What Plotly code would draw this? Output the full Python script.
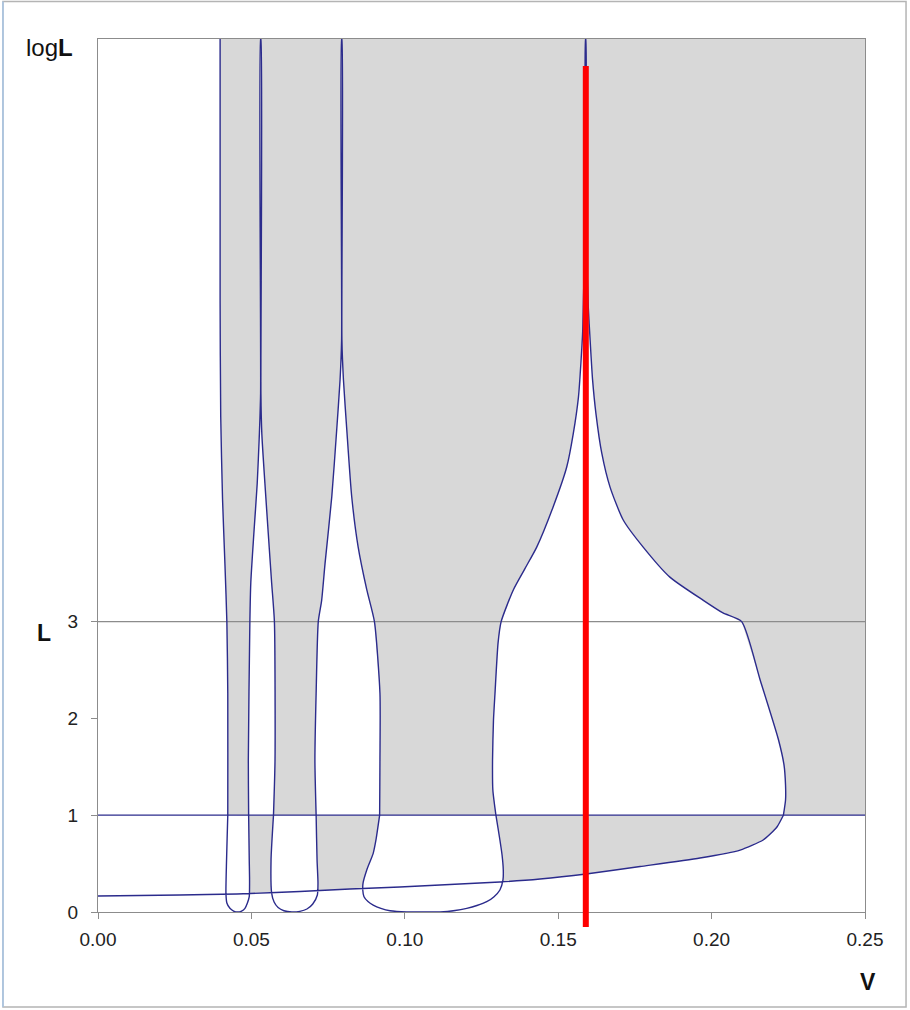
import plotly.graph_objects as go

# ---------------- data (V on x, L / logL on y) ----------------
X_MAX = 0.25
Y_TOP = 9.02          # top of the logL region
L_ONE = 1.0
L_GRID = 3.0
RED_V = 0.159
RED_Y = [8.74, -0.155]

# left boundary (top -> L=1)
B0_V = [0.0398, 0.0398, 0.0400, 0.0406, 0.0414, 0.0420, 0.0423, 0.0423]
B0_Y = [9.02, 6.32, 5.12, 4.26, 3.57, 3.00, 2.26, 1.00]

# loop A (L=1 -> bottom -> L=1)
LA_V = [0.0423, 0.0419, 0.0417, 0.0420, 0.0430, 0.0442, 0.0455, 0.0468, 0.0479, 0.0487, 0.0493, 0.0494, 0.0493, 0.0491]
LA_Y = [1.00, 0.537, 0.196, 0.093, 0.038, 0.010, 0.000, 0.010, 0.038, 0.093, 0.158, 0.331, 0.537, 1.00]

# tongue 3 (V0/3)
T3L_V = [0.0491, 0.0490, 0.0495, 0.0498, 0.0508, 0.0519, 0.0526, 0.0530, 0.0530]
T3L_Y = [1.00, 1.57, 3.00, 3.40, 3.91, 4.43, 4.94, 5.36, 9.02]
T3R_V = [0.0531, 0.0531, 0.0534, 0.0544, 0.0555, 0.0566, 0.0575, 0.0577, 0.0572]
T3R_Y = [9.02, 5.36, 4.94, 4.43, 3.91, 3.40, 3.00, 1.57, 1.00]

# loop B
LB_V = [0.0572, 0.0564, 0.0566, 0.0574, 0.0587, 0.0606, 0.0632, 0.0658, 0.0681, 0.0700, 0.0715, 0.0717, 0.0714, 0.0711]
LB_Y = [1.00, 0.537, 0.196, 0.103, 0.046, 0.013, 0.000, 0.007, 0.031, 0.083, 0.176, 0.300, 0.537, 1.00]

# tongue 2 (V0/2)
T2L_V = [0.0711, 0.0707, 0.0711, 0.0718, 0.0729, 0.0740, 0.0762, 0.0778, 0.0789, 0.0794, 0.0794]
T2L_Y = [1.00, 1.57, 2.26, 3.00, 3.22, 3.60, 4.29, 4.98, 5.50, 5.91, 9.02]
T2R_V = [0.0795, 0.0795, 0.0800, 0.0811, 0.0827, 0.0848, 0.0876, 0.0901, 0.0919, 0.0919, 0.0918]
T2R_Y = [9.02, 5.91, 5.50, 4.98, 4.29, 3.77, 3.33, 3.00, 2.26, 1.57, 1.00]

# loop C
LC_V = [0.0918, 0.0906, 0.0897, 0.0876, 0.0864, 0.0863, 0.0867, 0.0880, 0.0897, 0.0922, 0.0952,
        0.1006, 0.1059, 0.1115, 0.1164, 0.1202, 0.1235, 0.1267, 0.1290, 0.1310, 0.1320, 0.1321,
        0.1317, 0.1310, 0.1297]
LC_Y = [1.00, 0.744, 0.606, 0.434, 0.300, 0.227, 0.158, 0.108, 0.072, 0.038, 0.013,
        0.000, 0.000, 0.000, 0.015, 0.038, 0.067, 0.106, 0.155, 0.227, 0.331, 0.434,
        0.589, 0.744, 1.00]

# tongue 1 (V0)
T1L_V = [0.1297, 0.1287, 0.1286, 0.1289, 0.1294, 0.1304, 0.1314, 0.1354, 0.1392, 0.1430, 0.1484,
         0.1528, 0.1549, 0.1566, 0.1574, 0.1580, 0.1583, 0.1589, 0.1589]
T1L_Y = [1.00, 1.26, 1.57, 1.98, 2.26, 2.78, 3.00, 3.33, 3.55, 3.77, 4.19,
         4.60, 4.94, 5.32, 5.67, 6.01, 6.43, 6.84, 9.02]
T1R_V = [0.1590, 0.1590, 0.1595, 0.1598, 0.1604, 0.1612, 0.1623, 0.1642, 0.1669, 0.1712, 0.1777,
         0.1864, 0.1973, 0.2037, 0.2098, 0.2158, 0.2218, 0.2236, 0.2241, 0.2241, 0.2234]
T1R_Y = [9.02, 6.84, 6.53, 6.25, 5.91, 5.50, 5.15, 4.74, 4.39, 4.05, 3.77,
         3.46, 3.22, 3.09, 3.00, 2.40, 1.78, 1.52, 1.31, 1.157, 1.00]

# lower boundary (L=1 crossing -> V=0)
LOW_V = [0.2234, 0.2213, 0.2191, 0.2168, 0.2093, 0.1962, 0.1767, 0.1591, 0.1441, 0.1310, 0.1147,
         0.0984, 0.0821, 0.0658, 0.0495, 0.0453, 0.0267, 0.0]
LOW_Y = [1.00, 0.878, 0.806, 0.744, 0.640, 0.558, 0.470, 0.393, 0.341, 0.310, 0.284,
         0.258, 0.238, 0.212, 0.191, 0.186, 0.176, 0.165]

X_TICKS = [0.00, 0.05, 0.10, 0.15, 0.20, 0.25]
Y_TICKS = [0, 1, 2, 3]
Y_TICK_TEXT = ["0", "1", "2", "3"]

# ---------------- styles ----------------
GRAY = "#d8d8d8"
BLUE = "#2b2b8c"
AXIS = "#8c8c8c"
FONT = "Liberation Sans, Arial, sans-serif"


def rev(a):
    return list(a)[::-1]


fig = go.Figure()

# gray region above L=1 (right of left boundary, outside the tongues)
pa_v = ([B0_V[0], X_MAX, X_MAX] + rev(T1R_V) + rev(T1L_V) + rev(T2R_V) + rev(T2L_V)
        + rev(T3R_V) + rev(T3L_V) + rev(B0_V))
pa_y = ([Y_TOP, Y_TOP, L_ONE] + rev(T1R_Y) + rev(T1L_Y) + rev(T2R_Y) + rev(T2L_Y)
        + rev(T3R_Y) + rev(T3L_Y) + rev(B0_Y))
fig.add_trace(go.Scatter(x=pa_v, y=pa_y, mode="lines", fill="toself", fillcolor=GRAY,
                         line=dict(width=0), hoverinfo="skip"))

# gray region below L=1 (above lower boundary)
vmin_a = min(LA_V)
kept = [(v, y) for v, y in zip(LOW_V, LOW_Y) if v >= vmin_a]
pb_v = [p[0] for p in kept] + [kept[-1][0]]
pb_y = [p[1] for p in kept] + [L_ONE]
fig.add_trace(go.Scatter(x=pb_v, y=pb_y, mode="lines", fill="toself", fillcolor=GRAY,
                         line=dict(width=0), hoverinfo="skip"))

# loops are white inside
for lv, ly in [(LA_V, LA_Y), (LB_V, LB_Y), (LC_V, LC_Y)]:
    fig.add_trace(go.Scatter(x=lv, y=ly, mode="lines", fill="toself", fillcolor="white",
                             line=dict(width=0, shape="spline", smoothing=0.6), hoverinfo="skip"))

# L=3 grid line
fig.add_trace(go.Scatter(x=[0, X_MAX], y=[L_GRID, L_GRID], mode="lines",
                         line=dict(color=AXIS, width=1.3), hoverinfo="skip"))

# L=1 line
fig.add_trace(go.Scatter(x=[0, X_MAX], y=[L_ONE, L_ONE], mode="lines",
                         line=dict(color=BLUE, width=1.3), hoverinfo="skip"))

# boundary curve
cv = B0_V + LA_V + T3L_V + T3R_V + LB_V + T2L_V + T2R_V + LC_V + T1L_V + T1R_V + LOW_V
cy = B0_Y + LA_Y + T3L_Y + T3R_Y + LB_Y + T2L_Y + T2R_Y + LC_Y + T1L_Y + T1R_Y + LOW_Y
fig.add_trace(go.Scatter(x=cv, y=cy, mode="lines",
                         line=dict(color=BLUE, width=1.4, shape="spline", smoothing=0.6),
                         hoverinfo="skip"))

shapes = [
    dict(type="rect", xref="paper", yref="paper", x0=-0.1239, x1=1.0535,
         y0=-0.1088, y1=1.043, line=dict(color="#b4b4b4", width=1.5), layer="below"),
    dict(type="line", xref="paper", yref="paper", x0=-0.1239, x1=-0.1239,
         y0=-0.1088, y1=1.043, line=dict(color="#a9c6e6", width=1.5), layer="below"),
    # red marker line at V = RED_V (x in data units, y in fraction of the L axis)
    dict(type="line", xref="x", yref="y domain", x0=RED_V, x1=RED_V,
         y0=RED_Y[1] / Y_TOP, y1=RED_Y[0] / Y_TOP,
         line=dict(color="#ff0000", width=6), layer="above"),
]

fig.update_layout(
    width=910, height=1010,
    margin=dict(l=98, r=45, t=39, b=98),
    paper_bgcolor="white", plot_bgcolor="white",
    showlegend=False,
    font=dict(family=FONT, size=19, color="#222222"),
    xaxis=dict(range=[0, X_MAX], tickvals=X_TICKS, tickformat=".2f",
               showgrid=False, zeroline=False, showline=True, linecolor=AXIS, linewidth=1.3,
               mirror=True, ticks="outside", ticklen=6, tickcolor=AXIS, tickwidth=1.2,
               ticklabelstandoff=4, tickfont=dict(size=19, color="#222222")),
    yaxis=dict(range=[0, Y_TOP], tickvals=Y_TICKS, ticktext=Y_TICK_TEXT,
               showgrid=False, zeroline=False, showline=True, linecolor=AXIS, linewidth=1.3,
               mirror=True, ticks="outside", ticklen=6, tickcolor=AXIS, tickwidth=1.2,
               ticklabelstandoff=9, tickfont=dict(size=19, color="#222222")),
    annotations=[
        dict(text="log<b>L</b>", xref="paper", yref="paper", x=-0.0965, y=0.9897,
             xanchor="left", yanchor="middle", showarrow=False,
             font=dict(size=24, color="#111111")),
        dict(text="<b>L</b>", xref="paper", yref="paper", x=-0.0698, y=0.3196,
             xanchor="center", yanchor="middle", showarrow=False,
             font=dict(size=23, color="#111111")),
        dict(text="<b>V</b>", xref="paper", yref="paper", x=1.0039, y=-0.0802,
             xanchor="center", yanchor="middle", showarrow=False,
             font=dict(size=23, color="#111111")),
    ],
    shapes=shapes,
)

fig.write_html("out.html", config={"displayModeBar": False},
               post_script="document.body.style.margin='0';document.body.style.padding='0';")
